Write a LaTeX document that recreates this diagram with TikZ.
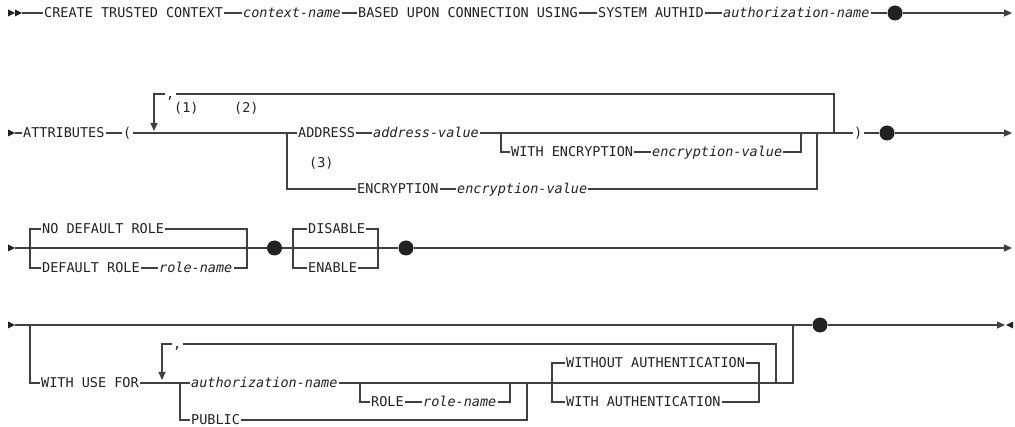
\documentclass[tikz,border=0pt]{standalone}
\usepackage{fontspec}
\newfontfamily\dmono{DejaVu Sans Mono}
\usetikzlibrary{arrows.meta}
\definecolor{lc}{HTML}{404040}
\definecolor{tc}{HTML}{222222}
\begin{document}
\begin{tikzpicture}[x=1pt,y=-1pt,
  ln/.style={draw=lc, line width=1.25pt},
  kw/.style={font=\dmono\fontsize{13.5}{16}\selectfont, text=tc, inner xsep=1pt, inner ysep=0pt, text height=9.85pt, text depth=0pt, anchor=west},
  vname/.style={kw, font=\dmono\fontsize{13.5}{16}\selectfont\itshape},
  sepc/.style={kw, inner xsep=1pt},
  dot/.style={circle, fill=tc, inner sep=0pt, minimum size=15pt},
  endarr/.style={-{Triangle[length=8pt,width=7pt]}},
  downarr/.style={-{Triangle[length=8pt,width=7pt]}}
]
\useasboundingbox (0,0) rectangle (1015,427);

% ---------------- Row 1 ----------------
\fill[tc] (8,9.5) -- (15,13) -- (8,16.5) -- cycle;
\fill[tc] (15,9.5) -- (22,13) -- (15,16.5) -- cycle;
\coordinate (r1s) at (22,13);
\coordinate (r1e) at (1012,13);
\node[kw]    (c1) at (43,13)  {CREATE TRUSTED CONTEXT};
\node[vname] (c2) at (242,13) {context-name};
\node[kw]    (c3) at (357,13) {BASED UPON CONNECTION USING};
\node[kw]    (c4) at (597,13) {SYSTEM AUTHID};
\node[vname] (c5) at (722,13) {authorization-name};
\node[dot]   (d1) at (895,13) {};
\draw[ln] (r1s) -- (c1.west);
\draw[ln] (c1.east) -- (c2.west);
\draw[ln] (c2.east) -- (c3.west);
\draw[ln] (c3.east) -- (c4.west);
\draw[ln] (c4.east) -- (c5.west);
\draw[ln] (c5.east) -- (d1);
\draw[ln,endarr] (d1) -- (r1e);

% ---------------- Row 2 ----------------
\fill[tc] (8,129.5) -- (15,133) -- (8,136.5) -- cycle;
\coordinate (r2s) at (15,133);
\coordinate (r2e) at (1012,133);
\coordinate (j2a) at (287,133);
\coordinate (j2b) at (501,133);
\coordinate (j2c) at (801,133);
\coordinate (j2d) at (817,133);
\coordinate (j2e) at (834,133);
\coordinate (l1e) at (154,131);
\node[kw]    (a1) at (22,133)  {ATTRIBUTES};
\node[kw]    (a2) at (122,133) {(};
\node[sepc]  (s1) at (165,94) {,};
\node[kw]    (n1) at (173,108) {(1)};
\node[kw]    (n2) at (233,108) {(2)};
\node[kw]    (n3) at (308,163) {(3)};
\node[kw]    (a3) at (297,133) {ADDRESS};
\node[vname] (a4) at (372,133) {address-value};
\node[kw]    (a5) at (510,152) {WITH ENCRYPTION};
\node[vname] (a6) at (651,152) {encryption-value};
\node[kw]    (a7) at (853,133) {)};
\node[kw]    (a8) at (356,189) {ENCRYPTION};
\node[vname] (a9) at (456,189) {encryption-value};
\node[dot]   (d2) at (887,133) {};
\draw[ln] (r2s) -- (a1.west);
\draw[ln] (a1.east) -- (a2.west);
\draw[ln] (a2.east) -- (j2a) -- (a3.west);
\draw[ln] (j2a) |- (a8.west);
\draw[ln] (a3.east) -- (a4.west);
\draw[ln] (a4.east) -- (a7.west);
\draw[ln] (j2b) |- (a5.west);
\draw[ln] (a5.east) -- (a6.west);
\draw[ln] (a6.east) -| (j2c);
\draw[ln] (a8.east) -- (a9.west);
\draw[ln] (a9.east) -| (j2d);
\draw[ln] (s1.east) -| (j2e);
\draw[ln,downarr] (s1.west) -| (l1e);
\draw[ln] (a7.east) -- (d2);
\draw[ln,endarr] (d2) -- (r2e);

% ---------------- Row 3 ----------------
\fill[tc] (8,244.5) -- (15,248) -- (8,251.5) -- cycle;
\coordinate (r3s) at (15,248);
\coordinate (r3e) at (1012,248);
\coordinate (j3a) at (30,248);
\coordinate (j3b) at (247,248);
\coordinate (j3c) at (293,248);
\coordinate (j3d) at (378,248);
\node[kw]    (b1) at (41,229)  {NO DEFAULT ROLE};
\node[kw]    (b2) at (41,268)  {DEFAULT ROLE};
\node[vname] (b3) at (158,268) {role-name};
\node[kw]    (b4) at (307,229) {DISABLE};
\node[kw]    (b5) at (307,268) {ENABLE};
\node[dot]   (d3) at (274.5,248) {};
\node[dot]   (d4) at (406,248) {};
\draw[ln] (r3s) -- (d3);
\draw[ln] (j3a) |- (b1.west);
\draw[ln] (j3a) |- (b2.west);
\draw[ln] (b1.east) -| (j3b);
\draw[ln] (b2.east) -- (b3.west);
\draw[ln] (b3.east) -| (j3b);
\draw[ln] (d3) -- (d4);
\draw[ln] (j3c) |- (b4.west);
\draw[ln] (j3c) |- (b5.west);
\draw[ln] (b4.east) -| (j3d);
\draw[ln] (b5.east) -| (j3d);
\draw[ln,endarr] (d4) -- (r3e);

% ---------------- Row 4 ----------------
\fill[tc] (8,321.5) -- (15,325) -- (8,328.5) -- cycle;
\coordinate (r4s) at (15,325);
\coordinate (r4e) at (1005,325);
\coordinate (j4a) at (30,325);
\coordinate (j4b) at (180,383);
\coordinate (j4c) at (360,383);
\coordinate (j4d) at (510,383);
\coordinate (j4e) at (527,383);
\coordinate (j4f) at (552,383);
\coordinate (j4g) at (759,383);
\coordinate (j4h) at (776,383);
\coordinate (j4z) at (793,325);
\coordinate (l2e) at (162,380);
\node[kw]    (e1) at (40,383)  {WITH USE FOR};
\node[sepc]  (s2) at (172,344) {,};
\node[vname] (e2) at (190,383) {authorization-name};
\node[kw]    (e3) at (370,402) {ROLE};
\node[vname] (e4) at (422,402) {role-name};
\node[kw]    (e5) at (190,420) {PUBLIC};
\node[kw]    (e6) at (565,363) {WITHOUT AUTHENTICATION};
\node[kw]    (e7) at (565,402) {WITH AUTHENTICATION};
\node[dot]   (d5) at (820,325) {};
\draw[ln] (r4s) -- (d5);
\draw[ln] (j4a) |- (e1.west);
\draw[ln] (e1.east) -- (j4b) -- (e2.west);
\draw[ln] (j4b) |- (e5.west);
\draw[ln] (e2.east) -| (j4z);
\draw[ln] (j4c) |- (e3.west);
\draw[ln] (e3.east) -- (e4.west);
\draw[ln] (e4.east) -| (j4d);
\draw[ln] (e5.east) -| (j4e);
\draw[ln] (j4f) |- (e6.west);
\draw[ln] (j4f) |- (e7.west);
\draw[ln] (e6.east) -| (j4g);
\draw[ln] (e7.east) -| (j4g);
\draw[ln] (s2.east) -| (j4h);
\draw[ln,downarr] (s2.west) -| (l2e);
\draw[ln,endarr] (d5) -- (r4e);
\fill[tc] (1013,321.5) -- (1006,325) -- (1013,328.5) -- cycle;
\end{tikzpicture}
\end{document}
